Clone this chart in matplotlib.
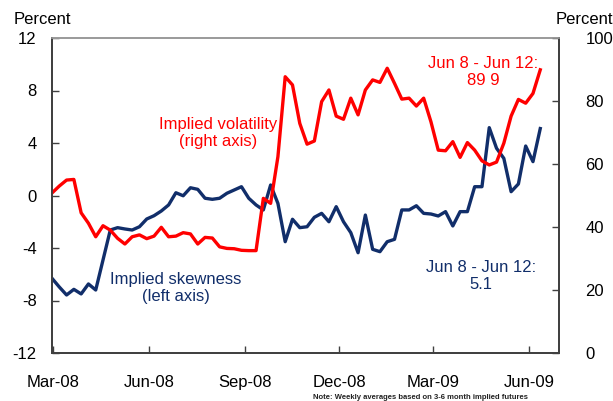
import matplotlib
matplotlib.use('Agg')
import matplotlib.pyplot as plt
import pandas as pd

# ---- data ----
start_date = '2008-02-29'
end_date = '2009-06-12'
dates = pd.date_range(start_date, end_date, freq='7D')

implied_skewness = [
    -6.31, -6.97, -7.58, -7.15, -7.50, -6.74, -7.20, -4.91, -2.63, -2.45,
    -2.55, -2.63, -2.38, -1.79, -1.54, -1.18, -0.72, 0.21, -0.02, 0.59,
    0.47, -0.21, -0.29, -0.21, 0.17, 0.42, 0.67, -0.21, -0.72, -1.10,
    0.80, -0.60, -3.52, -1.81, -2.45, -2.38, -1.66, -1.36, -2.00, -0.85,
    -2.00, -2.83, -4.36, -1.49, -4.10, -4.28, -3.52, -3.34, -1.10, -1.10,
    -0.78, -1.36, -1.41, -1.56, -1.23, -2.32, -1.23, -1.23, 0.67, 0.67,
    5.17, 3.60, 2.83, 0.29, 0.88, 3.77, 2.58, 5.10,
]

implied_volatility = [
    50.8, 53.0, 54.9, 55.1, 44.5, 41.2, 36.9, 40.4, 39.0, 36.4,
    34.6, 36.9, 37.5, 36.3, 37.1, 39.9, 36.9, 37.1, 38.2, 37.8,
    34.6, 36.7, 36.5, 33.7, 33.2, 33.1, 32.6, 32.5, 32.5, 49.1,
    47.5, 62.3, 87.7, 85.1, 72.9, 66.3, 67.3, 79.8, 83.5, 75.2,
    74.2, 80.9, 75.6, 83.5, 86.7, 85.9, 90.4, 85.6, 80.6, 80.9,
    78.4, 80.9, 73.4, 64.4, 64.2, 67.1, 62.1, 66.8, 64.4, 61.0,
    59.7, 60.6, 66.6, 75.2, 80.5, 79.3, 82.4, 89.9,
]

tick_dates = pd.to_datetime(['2008-03-01', '2008-06-01', '2008-09-01',
                             '2008-12-01', '2009-03-01', '2009-06-01'])
tick_labels = ['Mar-08', 'Jun-08', 'Sep-08', 'Dec-08', 'Mar-09', 'Jun-09']
left_ticks = [-12, -8, -4, 0, 4, 8, 12]
right_ticks = [0, 20, 40, 60, 80, 100]

x_limits = pd.to_datetime(['2008-02-29', '2009-06-30'])

# ---- style ----
plt.rcParams['font.family'] = ['Liberation Sans', 'DejaVu Sans']
plt.rcParams['axes.unicode_minus'] = False
RED = '#FF0000'
NAVY = '#112E6A'
SPINE = '#404040'
FS = 12

W, H = 613, 401
fig = plt.figure(figsize=(W / 100, H / 100), dpi=100)
L, R, T, B = 52, 559, 38, 353
ax = fig.add_axes([L / W, 1 - B / H, (R - L) / W, (B - T) / H])
ax2 = ax.twinx()

ax.plot(dates, implied_skewness, color=NAVY, lw=2.4, solid_joinstyle='round')
ax2.plot(dates, implied_volatility, color=RED, lw=2.4, solid_joinstyle='round')

ax.set_xlim(x_limits[0], x_limits[1])
ax.set_ylim(-12, 12)
ax2.set_ylim(0, 100)
ax.set_yticks(left_ticks)
ax2.set_yticks(right_ticks)
ax.set_xticks(tick_dates)
ax.set_xticklabels(tick_labels)

ax.tick_params(axis='x', direction='in', length=5, width=1, color=SPINE,
               pad=16, labelsize=FS)
ax.tick_params(axis='y', direction='in', length=5, width=1, color=SPINE,
               pad=11, labelsize=FS)
ax2.tick_params(axis='y', direction='in', length=5, width=1, color=SPINE,
                pad=19, labelsize=FS)

for a in (ax, ax2):
    for side in ('left', 'right', 'bottom'):
        a.spines[side].set_color(SPINE)
        a.spines[side].set_linewidth(1.3)
    a.spines['top'].set_color('#9a9a9a')
    a.spines['top'].set_linewidth(1.2)

def px(x, y):
    return x / W, 1 - y / H

fig.text(*px(14, 19), 'Percent', fontsize=FS, ha='left', va='center')
fig.text(*px(613, 19), 'Percent', fontsize=FS, ha='right', va='center')

fig.text(*px(218, 133), 'Implied volatility\n(right axis)', color=RED,
         fontsize=FS, ha='center', va='center', multialignment='center',
         linespacing=1.2)
fig.text(*px(176, 288), 'Implied skewness\n(left axis)', color=NAVY,
         fontsize=FS, ha='center', va='center', multialignment='center',
         linespacing=1.2)
fig.text(*px(483, 72), 'Jun 8 - Jun 12:\n89 9', color=RED,
         fontsize=FS, ha='center', va='center', multialignment='center',
         linespacing=1.2)
fig.text(*px(481, 276), 'Jun 8 - Jun 12:\n5.1', color=NAVY,
         fontsize=FS, ha='center', va='center', multialignment='center',
         linespacing=1.2)

fig.text(*px(313, 401), 'Note: Weekly averages based on 3-6 month implied futures',
         fontsize=5.5, ha='left', va='bottom', fontweight='bold', color='#222222')

fig.savefig('out.png', dpi=100)
